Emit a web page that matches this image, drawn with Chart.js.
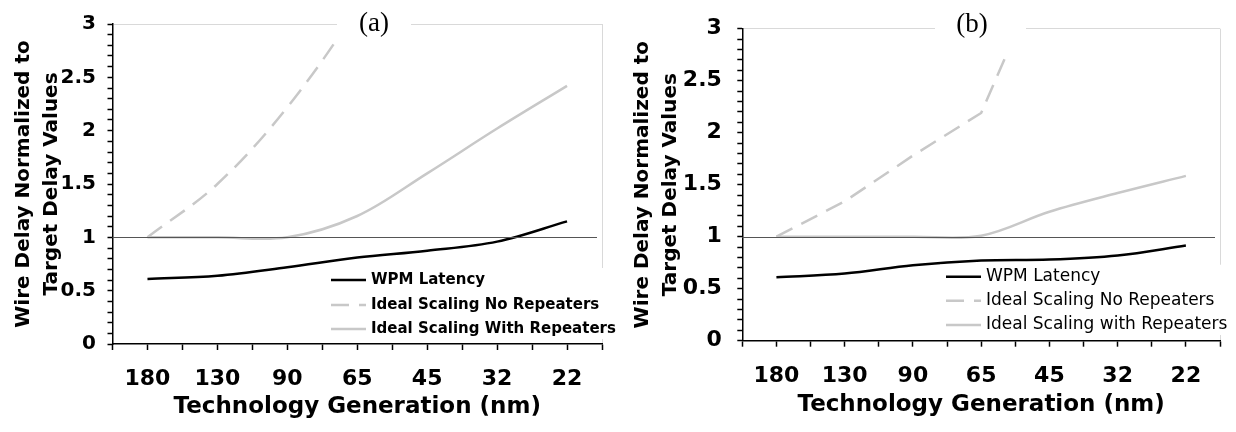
<!DOCTYPE html>
<html>
<head>
<meta charset="utf-8">
<script src="https://cdn.jsdelivr.net/npm/chart.js@4.4.1/dist/chart.umd.min.js"></script>
<style>
  html, body { margin: 0; padding: 0; background: #fff; }
  #wrap { display: flex; width: 1236px; height: 432px; }
  canvas { display: block; }
</style>
</head>
<body>
<div id="wrap">
  <canvas id="chartA" width="618" height="432"></canvas>
  <canvas id="chartB" width="618" height="432"></canvas>
</div>
<script>
// Data
const generations = ['180', '130', '90', '65', '45', '32', '22'];
const yTickLabels = ['0', '0.5', '1', '1.5', '2', '2.5', '3'];
const targetValue = 1;

// panel (a)
const wpmA = [0.61, 0.64, 0.72, 0.81, 0.875, 0.96, 1.15];
const noRepA = [1.0, 1.5, 2.22, 3.15, 4.3, 5.6, 7.0];
const withRepA = [1.0, 1.0, 1.0, 1.2, 1.6, 2.02, 2.42];

// panel (b)
const wpmB = [0.61, 0.645, 0.725, 0.77, 0.78, 0.82, 0.915];
const noRepB = [1.0, 1.34, 1.78, 2.19, 3.7, 5.3, 7.0];
const withRepB = [1.0, 1.0, 1.0, 1.01, 1.24, 1.42, 1.585];

Chart.defaults.font.family = '"DejaVu Sans", Verdana, sans-serif';
Chart.defaults.color = '#000';

const GRAY = '#c8c8c8';
const pts = arr => arr.map((v, i) => ({ x: i + 0.5, y: v }));

// reference line at y = 1, drawn over the series
const targetLine = {
  id: 'targetLine',
  afterDatasetsDraw(chart) {
    const { ctx, chartArea, scales } = chart;
    const y = Math.round(scales.y.getPixelForValue(targetValue)) + 0.5;
    ctx.save();
    ctx.strokeStyle = '#555';
    ctx.lineWidth = 1;
    ctx.beginPath();
    ctx.moveTo(chartArea.left, y);
    ctx.lineTo(chartArea.right - 5, y);
    ctx.stroke();
    ctx.restore();
  }
};

// "(a)" / "(b)" label in a white box
const panelLabel = {
  id: 'panelLabel',
  afterDraw(chart, args, o) {
    const ctx = chart.ctx;
    ctx.save();
    ctx.fillStyle = '#fff';
    ctx.fillRect(o.boxLeft, 0, o.boxRight - o.boxLeft, o.boxBottom);
    ctx.fillStyle = '#000';
    ctx.font = '27px "Liberation Serif", "Times New Roman", serif';
    ctx.textAlign = 'center';
    ctx.textBaseline = 'middle';
    ctx.fillText(o.text, o.cx, o.cy);
    ctx.restore();
  }
};

// legend drawn inside the plot, bottom right
const innerLegend = {
  id: 'innerLegend',
  afterDraw(chart, args, o) {
    const { ctx, chartArea } = chart;
    const x0 = chartArea.right - o.fromRight;
    const rows = o.rows.map(r => chartArea.bottom - r);
    ctx.save();
    ctx.fillStyle = '#fff';
    ctx.fillRect(x0 - 6, rows[0] - 12, chart.width - x0 + 6, rows[rows.length - 1] - rows[0] + 22);
    chart.data.datasets.forEach((ds, i) => {
      const y = rows[i];
      ctx.strokeStyle = ds.borderColor;
      ctx.lineWidth = ds.borderWidth;
      ctx.setLineDash(ds.borderDash || []);
      ctx.beginPath();
      ctx.moveTo(x0, y);
      ctx.lineTo(x0 + 35, y);
      ctx.stroke();
      ctx.setLineDash([]);
      ctx.fillStyle = '#000';
      ctx.font = o.font;
      ctx.textAlign = 'left';
      ctx.textBaseline = 'middle';
      ctx.fillText(ds.label, x0 + 40, y);
    });
    ctx.restore();
  }
};

function makePanel(id, wpm, noRep, withRep, withLabel, cfg) {
  const near = (a, b) => Math.abs(a - b) < 1e-6;
  return new Chart(document.getElementById(id), {
    type: 'line',
    data: {
      datasets: [
        { label: 'WPM Latency', data: pts(wpm), borderColor: '#000', borderWidth: 2.5, tension: 0.35 },
        { label: 'Ideal Scaling No Repeaters', data: pts(noRep), borderColor: GRAY, borderWidth: 2.5,
          borderDash: [18, 10], tension: cfg.dashTension },
        { label: withLabel, data: pts(withRep), borderColor: GRAY, borderWidth: 2.5, tension: 0.35 }
      ]
    },
    options: {
      responsive: false,
      animation: false,
      layout: { padding: { left: cfg.padLeft, top: cfg.top, right: 618 - cfg.right, bottom: 0 } },
      elements: { point: { radius: 0 }, line: { capBezierPoints: false, borderCapStyle: 'butt' } },
      plugins: {
        legend: { display: false },
        tooltip: { enabled: false },
        panelLabel: cfg.label,
        innerLegend: cfg.legend
      },
      scales: {
        x: {
          type: 'linear',
          min: 0,
          max: 7,
          afterFit: s => { s.height = 432 - cfg.bottom; },
          border: { color: '#000', width: 1.5 },
          grid: {
            color: c => near(c.tick.value, 7) ? '#d9d9d9' : 'rgba(0,0,0,0)',
            tickColor: '#000',
            tickWidth: 1.5,
            tickLength: 6
          },
          ticks: {
            stepSize: 0.5,
            autoSkip: false,
            maxRotation: 0,
            padding: 16,
            font: { size: 22, weight: 'bold', lineHeight: 1.2 },
            callback: v => {
              const i = v - 0.5;
              return Number.isInteger(i) && generations[i] ? generations[i] : '';
            }
          },
          title: {
            display: true,
            text: 'Technology Generation (nm)',
            font: { size: 23, weight: 'bold', lineHeight: 1.2 },
            padding: { top: 0, bottom: cfg.xTitlePad }
          }
        },
        y: {
          min: 0,
          max: 3,
          afterFit: s => { s.width = cfg.left - cfg.padLeft; },
          border: { color: '#000', width: 1.5 },
          grid: {
            color: c => near(c.tick.value, 3) ? '#d9d9d9' : 'rgba(0,0,0,0)',
            tickColor: '#000',
            tickWidth: 1.5,
            tickLength: 5
          },
          ticks: {
            stepSize: 0.1,
            autoSkip: false,
            padding: cfg.yTickPad,
            font: { size: cfg.yTickSize, weight: 'bold' },
            callback: v => {
              const k = Math.round(v * 2);
              return near(v * 2, k) ? yTickLabels[k] : '';
            }
          },
          title: {
            display: true,
            text: ['Wire Delay Normalized to', 'Target Delay Values'],
            font: { size: 20, weight: 'bold', lineHeight: 1.4 },
            padding: { top: 0, bottom: 0 }
          }
        }
      }
    },
    plugins: [targetLine, innerLegend, panelLabel]
  });
}

makePanel('chartA', wpmA, noRepA, withRepA, 'Ideal Scaling With Repeaters', {
  padLeft: 9.5, left: 112.5, top: 24, right: 603, bottom: 344,
  xTitlePad: 11, yTickPad: 11.5, yTickSize: 20, dashTension: 0.35,
  label: { text: '(a)', cx: 374, cy: 24, boxLeft: 337, boxRight: 411, boxBottom: 48 },
  legend: { fromRight: 271, rows: [64, 39, 15], font: 'bold 15px "DejaVu Sans", Verdana, sans-serif' }
});

makePanel('chartB', wpmB, noRepB, withRepB, 'Ideal Scaling with Repeaters', {
  padLeft: 11, left: 124.3, top: 22.7, right: 604.7, bottom: 340.7,
  xTitlePad: 13, yTickPad: 15.5, yTickSize: 22, dashTension: 0,
  label: { text: '(b)', cx: 354, cy: 25, boxLeft: 317, boxRight: 408, boxBottom: 52 },
  legend: { fromRight: 274, rows: [64, 40, 15.7], font: '17px "DejaVu Sans", Verdana, sans-serif' }
});
</script>
</body>
</html>
